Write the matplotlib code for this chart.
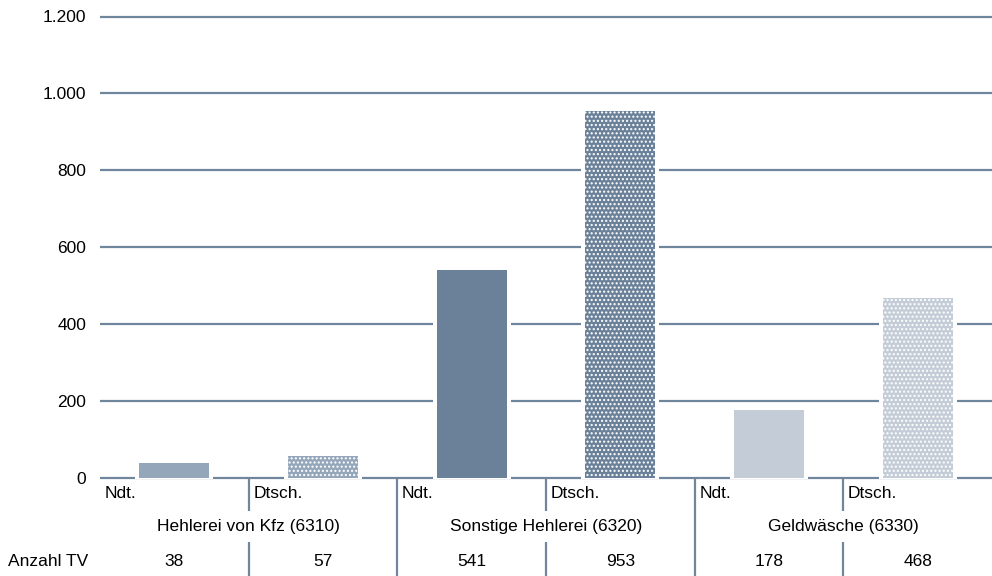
import matplotlib
matplotlib.use("Agg")
import matplotlib.pyplot as plt
from matplotlib.ticker import FuncFormatter

plt.rcParams['font.family'] = ['Liberation Sans', 'DejaVu Sans']
plt.rcParams['hatch.linewidth'] = 1.0

# Daten
kategorien = ["Ndt.", "Dtsch.", "Ndt.", "Dtsch.", "Ndt.", "Dtsch."]
gruppen = ["Hehlerei von Kfz (6310)", "Sonstige Hehlerei (6320)", "Geldwäsche (6330)"]
anzahl_tv = [38, 57, 541, 953, 178, 468]
farben = ["#94a6ba", "#94a6ba", "#6a8199", "#6a8199", "#c4cdd7", "#c4cdd7"]
muster = [None, "....", None, "....", None, "...."]

linie = "#6f869c"

fig = plt.figure(figsize=(9.92, 5.76), dpi=100)
ax = fig.add_axes([100 / 992, 98 / 576, 892 / 992, 461.5 / 576])

pad = 10  # weisser Rand um die Balken (in Datenwerten)
for i, v in enumerate(anzahl_tv):
    # weisse Flaeche unterbricht die Gitterlinien neben dem Balken
    ax.bar(i, v + pad + 3, bottom=-3, width=0.525, color="white",
           linewidth=0, zorder=2, clip_on=False)
    ax.bar(i, v, width=0.47, color=farben[i], edgecolor="white",
           linewidth=0, hatch=muster[i], zorder=3)

ax.set_xlim(-0.5, len(anzahl_tv) - 0.5)
ax.set_ylim(0, 1200)
ax.set_yticks(range(0, 1201, 200))
ax.yaxis.set_major_formatter(FuncFormatter(lambda v, p: f"{int(v):,}".replace(",", ".")))
ax.grid(axis="y", color=linie, linewidth=1.6, zorder=1)
ax.set_axisbelow(True)
for gl in ax.get_ygridlines():
    gl.set_clip_on(False)
    gl.set_solid_capstyle("butt")
for s in ax.spines.values():
    s.set_visible(False)
ax.tick_params(axis="y", length=0, pad=10, labelsize=12.5)
ax.set_xticks([])

# Tabelle unter der Achse
trans = ax.get_xaxis_transform()
h = 461.0

def yf(px):
    return -(px - 478) / h

for i, k in enumerate(kategorien):
    ax.text(i - 0.5 + 0.03, yf(493), k, transform=trans, ha="left", va="center",
            fontsize=12.5, clip_on=False)
    ax.text(i, yf(561), str(anzahl_tv[i]), transform=trans, ha="center",
            va="center", fontsize=12.5, clip_on=False)

for g, name in enumerate(gruppen):
    ax.text(2 * g + 0.5, yf(526), name, transform=trans, ha="center",
            va="center", fontsize=12.5, clip_on=False)

ax.text(-0.5 - 92 / 148.67, yf(561), "Anzahl TV", transform=trans, ha="left",
        va="center", fontsize=12.5, clip_on=False)

for b in [0.5, 2.5, 4.5]:
    ax.plot([b, b], [yf(478), yf(511)], transform=trans, color=linie,
            linewidth=1.6, clip_on=False, solid_capstyle="butt")
    ax.plot([b, b], [yf(542), yf(576)], transform=trans, color=linie,
            linewidth=1.6, clip_on=False, solid_capstyle="butt")
for b in [1.5, 3.5]:
    ax.plot([b, b], [yf(478), yf(576)], transform=trans, color=linie,
            linewidth=1.6, clip_on=False, solid_capstyle="butt")

fig.savefig("out.png", dpi=100)
